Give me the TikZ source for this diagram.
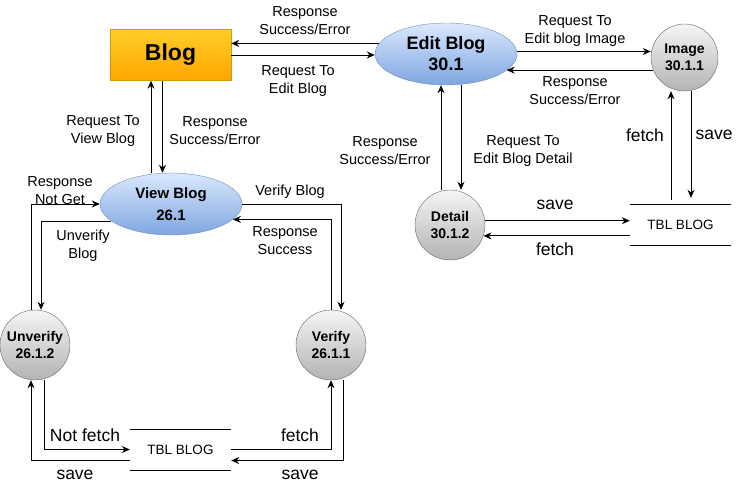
\documentclass[tikz,border=0pt]{standalone}
\usepackage{fontspec}
\setmainfont{Liberation Sans}
\usepackage{xcolor}
\definecolor{blogtop}{HTML}{FFCD28}
\definecolor{blogbot}{HTML}{FFA500}
\definecolor{blogline}{HTML}{D79B00}
\definecolor{proctop}{HTML}{DAE8FC}
\definecolor{procbot}{HTML}{7EA6E0}
\definecolor{procline}{HTML}{6C8EBF}
\definecolor{subtop}{HTML}{F5F5F5}
\definecolor{subbot}{HTML}{B3B3B3}
\definecolor{subline}{HTML}{666666}
\usetikzlibrary{arrows.meta,positioning,shapes.geometric,calc}

\begin{document}
\begin{tikzpicture}[x=1pt, y=-1pt,
    proc/.style={ellipse, draw=procline, top color=proctop, bottom color=procbot,
      minimum width=142pt, minimum height=62pt, inner sep=0pt, align=center},
    sub/.style={circle, draw=subline, top color=subtop, bottom color=subbot,
      minimum size=70pt, inner sep=0pt, align=center,
      font=\bfseries\fontsize{14}{17}\selectfont},
    store/.style={minimum width=101pt, minimum height=41pt, inner sep=0pt,
      font=\fontsize{13.5}{15}\selectfont},
    flow/.style={-{Stealth[length=8pt, width=7pt]}, line width=1pt},
    lbl/.style={align=center, font=\fontsize{14.5}{18}\selectfont},
    biglbl/.style={font=\fontsize{17.5}{20}\selectfont}
  ]
    \useasboundingbox (0,0) rectangle (741,491);
    % Main entity
    \node[draw=blogline, top color=blogtop, bottom color=blogbot,
          minimum width=121pt, minimum height=51pt,
          font=\bfseries\fontsize{23}{26}\selectfont] (blog) at (170.5,55) {Blog};
    % Processes
    \node[proc, font=\bfseries\fontsize{18}{21}\selectfont] (edit) at (446,54)
      {Edit Blog\\30.1};
    \node[proc, font=\bfseries\fontsize{15}{22}\selectfont] (view) at (171,204)
      {View Blog\\26.1};
    % Sub processes
    \node[sub, minimum size=67pt] (image) at (684.5,57.5) {Image\\30.1.1};
    \node[sub] (detail) at (450,225) {Detail\\30.1.2};
    \node[sub] (unverify) at (35,345) {Unverify\\26.1.2};
    \node[sub] (verify) at (331,345) {Verify\\26.1.1};
    % Data stores
    \node[store] (tblB) at (680.5,224.5) {TBL BLOG};
    \node[store] (tblA) at (180.5,449.5) {TBL BLOG};
    \foreach \s in {tblA,tblB} {
      \draw (\s.north west) -- (\s.north east);
      \draw (\s.south west) -- (\s.south east);
    }

    % Blog <-> Edit Blog
    \draw[flow] (edit.171) -- (edit.171 -| blog.east);
    \draw[flow] (blog.east) -- (blog.east -| edit.west);
    \node[lbl] (l1) at (305,21) {Response\\Success/Error};
    \node[lbl] (l2) at (298,81) {Request To\\Edit Blog};

    % Edit Blog <-> Image
    \draw[flow] (edit.2) -- (edit.2 -| image.west);
    \draw[flow] (image.202) -- (image.202 -| edit.-15);
    \node[lbl] (l3) at (575,31) {Request To\\Edit blog Image};
    \node[lbl] (l4) at (575,91) {Response\\Success/Error};

    % Blog <-> View Blog
    \draw[flow] ([xshift=-20pt]view.north) -- ([xshift=-20pt]view.north |- blog.south);
    \draw[flow] ([xshift=-8pt]blog.south) -- ([xshift=-8pt]blog.south |- view.north);
    \node[lbl] (l5) at (103,131) {Request To\\View Blog};
    \node[lbl] (l6) at (215,131) {Response\\Success/Error};

    % View Blog <-> Unverify
    \draw[flow] ([xshift=-4pt]unverify.north) |- (view.west);
    \draw[flow] (view.196) -| ([xshift=6pt]unverify.north);
    \node[lbl] (l7) at (60,191) {Response\\Not Get};
    \node[lbl] (l8) at (83,246) {Unverify\\Blog};

    % View Blog <-> Verify
    \draw[flow] (view.east) -| ([xshift=10pt]verify.north);
    \draw[flow] (verify.north) |- (view.-14);
    \node[lbl] (l9) at (290,192) {Verify Blog};
    \node[lbl] (l10) at (285,241) {Response\\Success};

    % Unverify / Verify <-> TBL BLOG
    \draw[flow] ([xshift=9pt]unverify.south) |- (tblA.west);
    \draw[flow] ([yshift=-11pt]tblA.west) -| ([xshift=-4pt]unverify.south);
    \draw[flow] (tblA.east) -| (verify.south);
    \draw[flow] ([xshift=12pt]verify.south) |- ([yshift=-11pt]tblA.east);
    \node[biglbl] (l11) at (85,435) {Not fetch};
    \node[biglbl] (l12) at (75,475) {save};
    \node[biglbl] (l13) at (300,435) {fetch};
    \node[biglbl] (l14) at (300,475) {save};

    % Edit Blog <-> Detail
    \draw[flow] ([xshift=-9pt]detail.north) -- ([xshift=-9pt]detail.north |- edit.south);
    \draw[flow] ([xshift=15pt]edit.south) -- ([xshift=15pt]edit.south |- detail.north);
    \node[lbl] (l15) at (385,151) {Response\\Success/Error};
    \node[lbl] (l16) at (523,151) {Request To\\Edit Blog Detail};

    % Detail <-> TBL BLOG
    \draw[flow] (detail.7) -- (detail.7 -| tblB.west);
    \draw[flow] (tblB.west |- detail.-18) -- (detail.-18);
    \node[biglbl] (l17) at (555,205) {save};
    \node[biglbl] (l18) at (555,249) {fetch};

    % Image <-> TBL BLOG
    \draw[flow] ([xshift=-9.5pt,yshift=4pt]tblB.north) -- ([xshift=-13.5pt]image.south);
    \draw[flow] ([xshift=6.5pt]image.south) -- ([xshift=10.5pt,yshift=6pt]tblB.north);
    \node[biglbl] (l19) at (645,135) {fetch};
    \node[biglbl] (l20) at (714,135) {save};
  \end{tikzpicture}
\end{document}
